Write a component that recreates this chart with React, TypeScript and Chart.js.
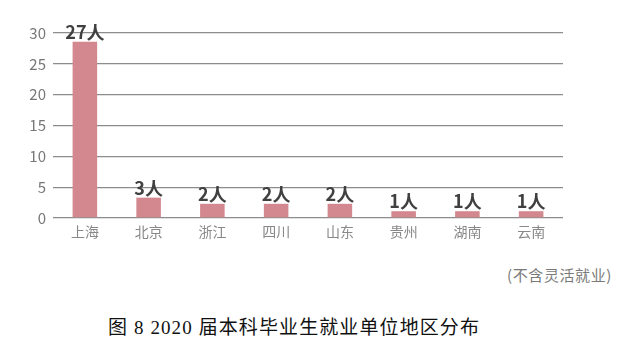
import React, { useEffect, useRef } from "react";
import { Chart, registerables } from "chart.js";

Chart.register(...registerables);

const categories = ["上海", "北京", "浙江", "四川", "山东", "贵州", "湖南", "云南"];
const barHeights = [28.6, 3.3, 2.3, 2.3, 2.3, 1.1, 1.1, 1.1];
const valueLabels = ["27人", "3人", "2人", "2人", "2人", "1人", "1人", "1人"];
const yTicks = [0, 5, 10, 15, 20, 25, 30];
const footnote = "(不含灵活就业)";
const caption = "图 8 2020 届本科毕业生就业单位地区分布";

const CJK = '"Noto Sans CJK SC", "Noto Sans", sans-serif';

const labelPlugin = {
  id: "valueLabels",
  afterDatasetsDraw(chart: any) {
    const ctx = chart.ctx;
    const meta = chart.getDatasetMeta(0);
    ctx.save();
    ctx.font = `bold 18px ${CJK}`;
    ctx.fillStyle = "#404040";
    ctx.textAlign = "center";
    ctx.textBaseline = "alphabetic";
    meta.data.forEach((el: any, i: number) => {
      ctx.fillText(valueLabels[i], el.x, el.y - 3);
    });
    ctx.restore();
  },
};

export default function App() {
  const ref = useRef<HTMLCanvasElement>(null);
  useEffect(() => {
    if (!ref.current) return;
    const chart = new Chart(ref.current, {
      type: "bar",
      data: {
        labels: categories,
        datasets: [
          {
            data: barHeights,
            backgroundColor: "#d3888f",
            barPercentage: 0.385,
            categoryPercentage: 1,
          },
        ],
      },
      plugins: [labelPlugin],
      options: {
        animation: false,
        responsive: false,
        maintainAspectRatio: false,
        layout: { padding: { top: 33, right: 77, left: 0, bottom: 0 } },
        plugins: { legend: { display: false }, tooltip: { enabled: false } },
        scales: {
          x: {
            grid: { display: false, drawTicks: false },
            border: { display: false },
            ticks: {
              color: "#888888",
              font: { family: CJK, size: 14 },
              padding: 5,
            },
            afterFit(scale: any) {
              scale.height = 32;
            },
          },
          y: {
            min: 0,
            max: 30,
            afterBuildTicks(scale: any) {
              scale.ticks = yTicks.map((v) => ({ value: v }));
            },
            grid: { color: "#8c8c8c", lineWidth: 1.3, drawTicks: false },
            border: { display: false },
            ticks: {
              color: "#777777",
              font: { family: CJK, size: 15 },
              padding: 7,
            },
            afterFit(scale: any) {
              scale.width = 53;
            },
          },
        },
      },
    });
    return () => chart.destroy();
  }, []);

  return (
    <div style={{ position: "fixed", left: 0, top: 0, width: 640, height: 353, background: "#fff", overflow: "hidden" }}>
      <canvas ref={ref} width={640} height={250} style={{ position: "absolute", left: 0, top: 0, width: 640, height: 250 }} />
      <div
        style={{
          position: "absolute",
          right: 28,
          top: 264,
          fontFamily: CJK,
          fontSize: 15,
          letterSpacing: 0.6,
          color: "#7a7a7a",
          whiteSpace: "nowrap",
        }}
      >
        {footnote}
      </div>
      <div
        style={{
          position: "absolute",
          left: 108,
          top: 312,
          fontFamily: '"Liberation Serif", "Noto Sans CJK SC", serif',
          fontSize: 19,
          letterSpacing: 1.1,
          color: "#111",
          whiteSpace: "pre",
        }}
      >
        {caption}
      </div>
    </div>
  );
}
